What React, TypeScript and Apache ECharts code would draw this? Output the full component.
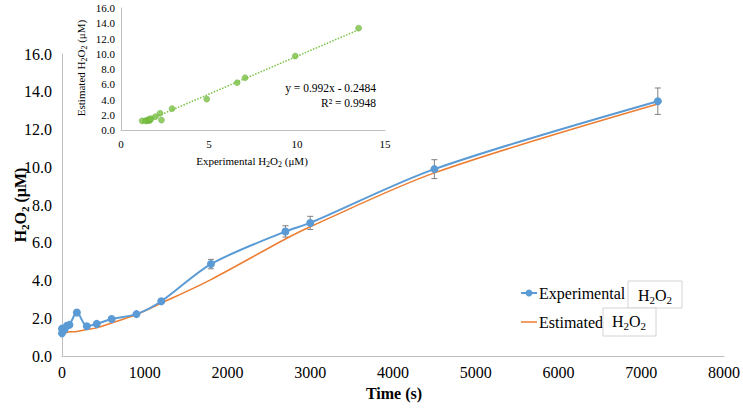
import React, { useEffect, useRef } from "react";
import * as echarts from "echarts";

// ---- data ----
const TIMES = [0, 0, 30, 60, 90, 180, 300, 420, 600, 900, 1200, 1800, 2700, 3000, 4500, 7200];
const EXPERIMENTAL = [1.2, 1.45, 1.4, 1.6, 1.65, 2.3, 1.58, 1.7, 1.96, 2.22, 2.9, 4.87, 6.6, 7.05, 9.9, 13.5];
const EXP_ERR = [0.05, 0.05, 0.05, 0.05, 0.05, 0.08, 0.05, 0.06, 0.08, 0.08, 0.1, 0.25, 0.3, 0.35, 0.5, 0.7];
const ESTIMATED = [1.2, 1.2, 1.22, 1.25, 1.28, 1.3, 1.4, 1.49, 1.75, 2.2, 2.8, 4.05, 6.2, 6.85, 9.7, 13.35];
const TREND_SLOPE = 0.992;
const TREND_INTERCEPT = -0.2484;
const TREND_R2 = 0.9948;
const TREND_X_RANGE = [1.2, 13.5];
const LEGEND_NAMES = ["Experimental", "Estimated"];

const SERIF = "Liberation Serif";
const AXIS_GRAY = "#bfbfbf";
const BLUE = "#5B9BD5";
const ORANGE = "#ED7D31";
const GREEN = "#7AC143";

const subRich = (size: number, sub: number, bold = false) => ({
  n: { fontSize: size, fontFamily: SERIF, fontWeight: bold ? "bold" : "normal", color: "#000", lineHeight: size + 4 },
  s: { fontSize: sub, fontFamily: SERIF, fontWeight: bold ? "bold" : "normal", color: "#000", verticalAlign: "bottom", lineHeight: sub },
});

const richLabel = (size: number, margin: number, fmt: (v: number) => string) => ({
  margin,
  fontFamily: SERIF,
  fontSize: size,
  color: "#000",
  formatter: (v: number) => `{t|${fmt(v)}}`,
  rich: { t: { fontFamily: SERIF, fontSize: size, color: "#000" } },
});

export default function App() {
  const ref = useRef<HTMLDivElement>(null);
  useEffect(() => {
    if (!ref.current) return;
    const chart = echarts.init(ref.current, null, { renderer: "svg" });
    const expData = TIMES.map((t, i) => [t, EXPERIMENTAL[i]]);
    const estData = TIMES.map((t, i) => [t, ESTIMATED[i]]);
    const errData = TIMES.map((t, i) => [t, EXPERIMENTAL[i], EXP_ERR[i]]);
    const scatterData = EXPERIMENTAL.map((v, i) => [v, ESTIMATED[i]]);
    const trendData = TREND_X_RANGE.map((x) => [x, TREND_SLOPE * x + TREND_INTERCEPT]);

    const option: any = {
      animation: false,
      backgroundColor: "#fff",
      textStyle: { fontFamily: SERIF },
      grid: [
        { left: 62, right: 17, top: 54, bottom: 53 },
        { left: 121, right: 358, top: 8, bottom: 279 },
      ],
      xAxis: [
        {
          type: "value", gridIndex: 0, min: 0, max: 8000, interval: 1000,
          axisLine: { lineStyle: { color: AXIS_GRAY } }, axisTick: { show: false }, splitLine: { show: false },
          axisLabel: richLabel(16, 8, (v) => String(v)),
        },
        {
          type: "value", gridIndex: 1, min: 0, max: 15, interval: 5,
          axisLine: { lineStyle: { color: AXIS_GRAY } }, axisTick: { show: false }, splitLine: { show: false },
          axisLabel: richLabel(11, 8, (v) => String(v)),
        },
      ],
      yAxis: [
        {
          type: "value", gridIndex: 0, min: 0, max: 16, interval: 2,
          axisLine: { show: true, lineStyle: { color: AXIS_GRAY } }, axisTick: { show: false }, splitLine: { show: false },
          axisLabel: richLabel(16, 10, (v) => v.toFixed(1)),
        },
        {
          type: "value", gridIndex: 1, min: 0, max: 16, interval: 2,
          axisLine: { show: true, lineStyle: { color: AXIS_GRAY } }, axisTick: { show: false }, splitLine: { show: false },
          axisLabel: richLabel(11, 6, (v) => v.toFixed(1)),
        },
      ],
      series: [
        {
          type: "custom", name: "err", xAxisIndex: 0, yAxisIndex: 0, z: 1,
          data: errData, encode: { x: 0, y: 1 },
          renderItem: (params: any, api: any) => {
            const x = api.value(0), y = api.value(1), e = api.value(2);
            const top = api.coord([x, y + e]);
            const bot = api.coord([x, y - e]);
            const st = { stroke: "#808080", lineWidth: 1 };
            return {
              type: "group",
              children: [
                { type: "line", shape: { x1: top[0], y1: top[1], x2: bot[0], y2: bot[1] }, style: st },
                { type: "line", shape: { x1: top[0] - 3, y1: top[1], x2: top[0] + 3, y2: top[1] }, style: st },
                { type: "line", shape: { x1: bot[0] - 3, y1: bot[1], x2: bot[0] + 3, y2: bot[1] }, style: st },
              ],
            };
          },
        },
        {
          type: "line", name: LEGEND_NAMES[1], xAxisIndex: 0, yAxisIndex: 0, z: 2,
          data: estData, smooth: 0.3, symbol: "none",
          lineStyle: { color: ORANGE, width: 1.5 }, itemStyle: { color: ORANGE },
        },
        {
          type: "line", name: LEGEND_NAMES[0], xAxisIndex: 0, yAxisIndex: 0, z: 3,
          data: expData, smooth: 0.3, symbol: "circle", symbolSize: 8, showAllSymbol: true,
          lineStyle: { color: BLUE, width: 2 }, itemStyle: { color: BLUE },
        },
        {
          type: "line", name: "trend", xAxisIndex: 1, yAxisIndex: 1, data: trendData, symbol: "none",
          lineStyle: { color: GREEN, width: 1.5, type: "dotted" },
        },
        {
          type: "scatter", name: "inset", xAxisIndex: 1, yAxisIndex: 1, data: scatterData, symbolSize: 6,
          itemStyle: { color: GREEN, borderColor: "#5fa82e", borderWidth: 0.5 },
        },
      ],
      graphic: [
        {
          type: "text", x: 20, y: 205, rotation: Math.PI / 2,
          style: {
            text: "{n|H}{s|2}{n|O}{s|2}{n| (μM)}", rich: subRich(16, 11, true),
            align: "center", verticalAlign: "middle",
          },
        },
        {
          type: "text", x: 394, y: 393,
          style: { text: "Time (s)", font: `bold 16px ${SERIF}`, fill: "#000", align: "center", verticalAlign: "middle" },
        },
        {
          type: "text", x: 81, y: 68, rotation: Math.PI / 2,
          style: {
            text: "{n|Estimated H}{s|2}{n|O}{s|2}{n| (μM)}", rich: subRich(11, 8),
            align: "center", verticalAlign: "middle",
          },
        },
        {
          type: "text", x: 252, y: 161,
          style: {
            text: "{n|Experimental H}{s|2}{n|O}{s|2}{n| (μM)}", rich: subRich(11, 8),
            align: "center", verticalAlign: "middle",
          },
        },
        {
          type: "text", x: 376, y: 88,
          style: {
            text: `y = ${TREND_SLOPE}x - ${Math.abs(TREND_INTERCEPT)}`, font: `11.5px ${SERIF}`, fill: "#000",
            align: "right", verticalAlign: "middle",
          },
        },
        {
          type: "text", x: 376, y: 103,
          style: {
            text: `R² = ${TREND_R2}`, font: `11.5px ${SERIF}`, fill: "#000",
            align: "right", verticalAlign: "middle",
          },
        },
        // legend (manual)
        { type: "line", shape: { x1: 521, y1: 293, x2: 537, y2: 293 }, style: { stroke: BLUE, lineWidth: 2 } },
        { type: "circle", shape: { cx: 529, cy: 293, r: 3.5 }, style: { fill: BLUE } },
        {
          type: "text", x: 539, y: 293,
          style: { text: LEGEND_NAMES[0], font: `16px ${SERIF}`, fill: "#000", align: "left", verticalAlign: "middle" },
        },
        { type: "line", shape: { x1: 521, y1: 322, x2: 537, y2: 322 }, style: { stroke: ORANGE, lineWidth: 1.5 } },
        {
          type: "text", x: 539, y: 322,
          style: { text: LEGEND_NAMES[1], font: `16px ${SERIF}`, fill: "#000", align: "left", verticalAlign: "middle" },
        },
        {
          type: "rect", shape: { x: 628, y: 281, width: 54, height: 27 },
          style: { fill: "#fff", stroke: "#d4d4d4", lineWidth: 1 },
        },
        {
          type: "text", x: 655, y: 295,
          style: { text: "{n|H}{s|2}{n|O}{s|2}", rich: subRich(16, 11), align: "center", verticalAlign: "middle" },
        },
        {
          type: "rect", shape: { x: 603, y: 308, width: 53, height: 28 },
          style: { fill: "#fff", stroke: "#d4d4d4", lineWidth: 1 },
        },
        {
          type: "text", x: 629, y: 321,
          style: { text: "{n|H}{s|2}{n|O}{s|2}", rich: subRich(16, 11), align: "center", verticalAlign: "middle" },
        },
      ],
    };
    chart.setOption(option);
    return () => chart.dispose();
  }, []);
  return (
    <div
      ref={ref}
      style={{ position: "fixed", left: 0, top: 0, width: 743, height: 409, background: "#fff" }}
    />
  );
}
